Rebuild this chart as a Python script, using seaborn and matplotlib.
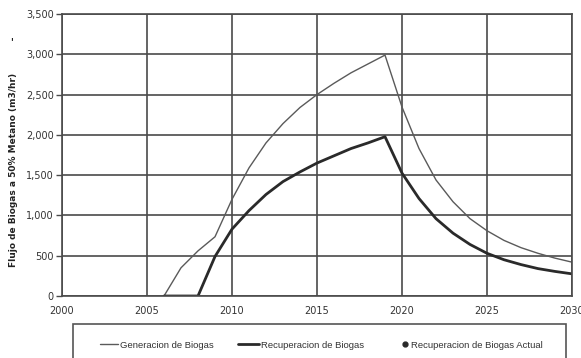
import numpy as np
import pandas as pd
import matplotlib
matplotlib.use("Agg")
import matplotlib.pyplot as plt
from matplotlib.lines import Line2D
from matplotlib.patches import Rectangle
import seaborn as sns

years = list(range(2006, 2031))
generacion = [0, 350, 560, 735, 1200, 1590, 1900, 2140, 2340, 2500, 2640, 2770,
              2880, 2990, 2345, 1830, 1440, 1170, 960, 810, 690, 600, 530, 470, 420]
recuperacion = [0, 0, 0, 490, 830, 1060, 1260, 1420, 1540, 1650, 1740, 1830,
                1900, 1977, 1525, 1210, 960, 780, 640, 530, 450, 390, 340, 305, 275]

series_names = ["Generacion de Biogas", "Recuperacion de Biogas", "Recuperacion de Biogas Actual"]
y_ticks = [0, 500, 1000, 1500, 2000, 2500, 3000, 3500]
x_ticks = [2000, 2005, 2010, 2015, 2020, 2025, 2030]
y_label = "Flujo de Biogas a 50% Metano (m3/hr)"

df = pd.DataFrame({
    "year": years * 2,
    "flow": generacion + recuperacion,
    "serie": [series_names[0]] * len(years) + [series_names[1]] * len(years),
})

sns.set_theme(style="white")
plt.rcParams["font.family"] = ["DejaVu Sans"]

W, H = 581, 358
fig = plt.figure(figsize=(W / 100, H / 100), dpi=100)
ax = fig.add_axes([62 / W, 1 - 296 / H, (572 - 62) / W, (296 - 14) / H])

sns.lineplot(data=df, x="year", y="flow", hue="serie", size="serie",
             palette={series_names[0]: "#5a5a5a", series_names[1]: "#2a2a2a"},
             sizes={series_names[0]: 1.0, series_names[1]: 2.0},
             legend=False, ax=ax)

ax.set_xlim(2000, 2030)
ax.set_ylim(0, 3500)
ax.set_xticks(x_ticks)
ax.set_yticks(y_ticks)
ax.set_xticklabels([str(t) for t in x_ticks])
ax.set_yticklabels([f"{t:,}" for t in y_ticks])
ax.grid(True, color="#4a4a4a", linewidth=1.2)
ax.set_axisbelow(True)
for side in ["top", "right", "left", "bottom"]:
    ax.spines[side].set_visible(True)
    ax.spines[side].set_color("#4a4a4a")
    ax.spines[side].set_linewidth(1.2)
ax.tick_params(axis="y", which="major", length=4, width=1, color="#4a4a4a",
               labelsize=7, labelcolor="#333333", pad=2, left=True)
ax.tick_params(axis="x", which="major", length=0, labelsize=7,
               labelcolor="#333333", pad=7)
ax.set_xlabel("")
ax.set_ylabel("")

fig.text(14 / W, 1 - 170 / H, y_label, rotation=90, ha="center", va="center",
         fontsize=6.5, fontweight="bold", color="#222222")
fig.text(12 / W, 1 - 42 / H, "'", ha="center", va="center", fontsize=7,
         fontweight="bold", color="#222222")

# Legend frame running off the bottom edge of the figure
frame = Rectangle((73 / W, 1 - 372 / H), (566 - 73) / W, (372 - 324) / H,
                  transform=fig.transFigure, fill=False, edgecolor="#555555",
                  linewidth=1.2, clip_on=False)
fig.add_artist(frame)

handles = [
    Line2D([], [], color="#5a5a5a", linewidth=1.0),
    Line2D([], [], color="#2a2a2a", linewidth=2.0),
    Line2D([], [], color="#2a2a2a", linestyle="none", marker="o", markersize=3.5),
]
legend_x = [100, 238, 400]
handle_len = [1.9, 2.2, 1.0]
legend_font = {"family": ["Liberation Sans", "DejaVu Sans"], "size": 6.8}
for h, name, lx, hl in zip(handles, series_names, legend_x, handle_len):
    leg = fig.legend([h], [name], loc="center left",
                     bbox_to_anchor=(lx / W, 1 - 345 / H),
                     frameon=False, borderpad=0, borderaxespad=0,
                     handlelength=hl, handletextpad=0.2, prop=legend_font)
    for t in leg.get_texts():
        t.set_color("#333333")

fig.savefig("out.png", dpi=100)
